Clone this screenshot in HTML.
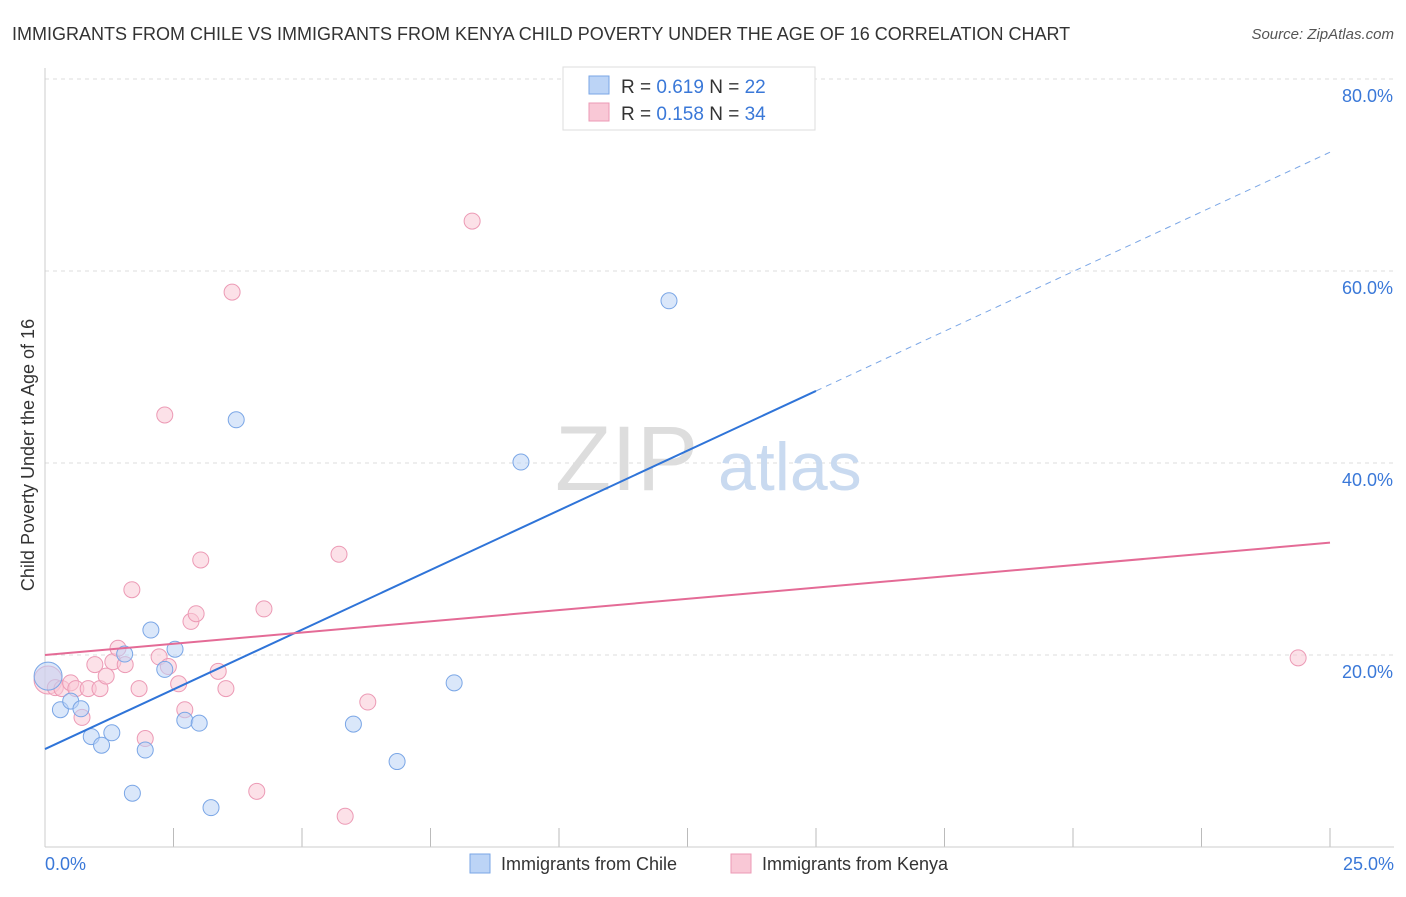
<!DOCTYPE html>
<html><head><meta charset="utf-8"><style>
body{margin:0;background:#fff;font-family:"Liberation Sans",sans-serif;}
svg text{font-family:"Liberation Sans",sans-serif;}
</style></head><body>
<svg width="1406" height="892" viewBox="0 0 1406 892">
<text x="12" y="40" font-size="18" fill="#333">IMMIGRANTS FROM CHILE VS IMMIGRANTS FROM KENYA CHILD POVERTY UNDER THE AGE OF 16 CORRELATION CHART</text>
<text x="1394" y="39" font-size="15" fill="#555" text-anchor="end" font-style="italic">Source: ZipAtlas.com</text>
<g id="grid"></g>
<g id="ticks"></g>
<line x1="45" y1="68" x2="45" y2="847" stroke="#ccc"/>
<line x1="45" y1="847" x2="1394" y2="847" stroke="#ccc"/>
<text x="555" y="490" font-size="92" fill="#ddd" font-family="Liberation Serif">ZIP</text>
<text x="718" y="490" font-size="68" fill="#c9daf0">atlas</text>
<text transform="translate(34,455) rotate(-90)" font-size="18" fill="#333" text-anchor="middle">Child Poverty Under the Age of 16</text>
<text x="45" y="870" font-size="18" fill="#3a78d8">0.0%</text>
<text x="1394" y="870" font-size="18" fill="#3a78d8" text-anchor="end">25.0%</text>
<g id="pts"></g>
<g id="lines"></g>
<g>
<rect x="563" y="67" width="252" height="63" fill="#fff" stroke="#ddd"/>
<rect x="589" y="76" width="20" height="18" fill="#bcd4f6" stroke="#7aa6e6"/>
<rect x="589" y="103" width="20" height="18" fill="#f9c8d6" stroke="#ec9ab5"/>
<text x="621" y="93" font-size="19" fill="#333">R = <tspan fill="#3a78d8">0.619</tspan>   N = <tspan fill="#3a78d8">22</tspan></text>
<text x="621" y="120" font-size="19" fill="#333">R = <tspan fill="#3a78d8">0.158</tspan>   N = <tspan fill="#3a78d8">34</tspan></text>
</g>
<g>
<rect x="470" y="854" width="20" height="19" fill="#bcd4f6" stroke="#7aa6e6"/>
<text x="501" y="870" font-size="18" fill="#333">Immigrants from Chile</text>
<rect x="731" y="854" width="20" height="19" fill="#f9c8d6" stroke="#ec9ab5"/>
<text x="762" y="870" font-size="18" fill="#333">Immigrants from Kenya</text>
</g>
</svg>
<script>
const yTicks=[20,40,60,80];
const yTickLabels=["20.0%","40.0%","60.0%","80.0%"];
const xTicks=[0,2.5,5,7.5,10,12.5,15,17.5,20,22.5,25];
const chileX=[0.06,0.3,0.5,0.7,0.9,1.1,1.3,1.55,1.7,1.95,2.06,2.33,2.53,2.72,3.0,3.23,3.72,6.0,6.85,7.96,9.26,12.14];
const chileY=[17.8,14.3,15.2,14.4,11.5,10.6,11.9,20.1,5.6,10.1,22.6,18.5,20.6,13.2,12.9,4.1,44.5,12.8,8.9,17.1,40.1,56.9];
const kenyaX=[0.06,0.2,0.33,0.5,0.6,0.72,0.84,0.97,1.07,1.19,1.32,1.42,1.56,1.69,1.83,1.95,2.22,2.33,2.4,2.6,2.72,2.84,2.94,3.03,3.37,3.52,3.64,4.12,4.26,5.72,5.84,6.28,8.31,24.38];
const kenyaY=[17.4,16.6,16.5,17.1,16.5,13.5,16.5,19.0,16.5,17.8,19.3,20.7,19.0,26.8,16.5,11.3,19.8,45.0,18.8,17.0,14.3,23.5,24.3,29.9,18.3,16.5,57.8,5.8,24.8,30.5,3.2,15.1,65.2,19.7];
const chileTrend=[10.2,2.487];
const kenyaTrend=[20.0,0.468];
const X=v=>45+v*51.4, Y=v=>847-v*9.6;
const NS="http://www.w3.org/2000/svg";
function mk(t,a,p){const e=document.createElementNS(NS,t);for(const k in a)e.setAttribute(k,a[k]);p.appendChild(e);return e;}
const grid=document.getElementById('grid');
yTicks.forEach((t,i)=>{
 const l=mk('line',{x1:45,x2:1394,y1:Y(t),y2:Y(t),stroke:'#ddd','stroke-dasharray':'4,4'},grid);
 
 
 const tx=mk('text',{x:1393,y:Y(t)+23,'font-size':18,fill:'#3a78d8','text-anchor':'end'},grid);
 tx.textContent=yTickLabels[i];
 
 
});
const tk=document.getElementById('ticks');
xTicks.forEach(t=>{const l=mk('line',{x1:X(t),x2:X(t),y1:828,y2:847,stroke:'#bbb'},tk);
 
 });
const pts=document.getElementById('pts');
function dots(xs,ys,f,s,name){xs.forEach((x,i)=>{const r=i===0?14:8;
 const c=mk('circle',{cx:X(x),cy:Y(ys[i]),r:r,fill:f,'fill-opacity':0.55,stroke:s,'stroke-width':1},pts);
 
 });}
dots(kenyaX,kenyaY,'#f9c8d6','#ec9ab5','kenya-point');
dots(chileX,chileY,'#bcd4f6','#7aa6e6','chile-point');
const ln=document.getElementById('lines');
let a=mk('line',{x1:X(0),y1:Y(chileTrend[0]),x2:X(15),y2:Y(chileTrend[0]+15*chileTrend[1]),stroke:'#2f74d8','stroke-width':2},ln);


let b=mk('line',{x1:X(15),y1:Y(chileTrend[0]+15*chileTrend[1]),x2:X(25),y2:Y(chileTrend[0]+25*chileTrend[1]),stroke:'#7aa6e6','stroke-width':1,'stroke-dasharray':'6,5'},ln);


let c=mk('line',{x1:X(0),y1:Y(kenyaTrend[0]),x2:X(25),y2:Y(kenyaTrend[0]+25*kenyaTrend[1]),stroke:'#e46b96','stroke-width':2},ln);


</script>
</body></html>
